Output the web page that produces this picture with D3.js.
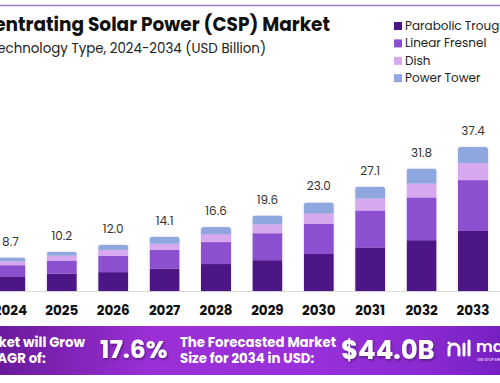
<!DOCTYPE html>
<html><head><meta charset="utf-8">
<script src="https://cdn.jsdelivr.net/npm/d3@7/dist/d3.min.js"></script>
<style>
html,body{margin:0;padding:0;background:#fff;overflow:hidden}
svg{display:block;font-family:"Poppins","Open Sans","Noto Sans",sans-serif}
</style></head>
<body>
<svg id="c" width="500" height="383"></svg>
<script>
const years = ["2024","2025","2026","2027","2028","2029","2030","2031","2032","2033","2034"];
const parabolicTrough = [3.8, 4.5, 4.9, 5.8, 7.0, 8.0, 9.6, 11.3, 13.2, 15.6, 18.3];
const linearFresnel   = [2.9, 3.4, 4.2, 4.9, 5.7, 7.0, 7.9, 9.6, 11.1, 13.2, 15.6];
const dish            = [1.0, 1.3, 1.6, 1.6, 2.1, 2.3, 2.6, 3.1, 3.6, 4.4, 5.1];
const powerTower      = [1.0, 1.0, 1.3, 1.8, 1.8, 2.3, 2.9, 3.1, 3.9, 4.2, 5.0];
const totals          = ["8.7","10.2","12.0","14.1","16.6","19.6","23.0","27.1","31.8","37.4","44.0"];
const seriesNames  = ["Parabolic Trough","Linear Fresnel","Dish","Power Tower"];
const seriesColors = ["#4d1587","#8c4fd0","#d6a9ef","#8ea7de"];
const titleText = "Concentrating Solar Power (CSP) Market";
const subtitleText = "By Technology Type, 2024-2034 (USD Billion)";
const cagrLines = ["The Market will Grow","At the CAGR of:"];
const cagrValue = "17.6%";
const forecastLines = ["The Forecasted Market","Size for 2034 in USD:"];
const forecastValue = "$44.0B";

const svg = d3.select("#c");
const defs = svg.append("defs");

// top rule
svg.append("line").attr("x1",0).attr("x2",500).attr("y1",5.5).attr("y2",5.5)
  .attr("stroke","#a57bbf").attr("stroke-width",1.5);

// title
svg.append("text").attr("x",330).attr("y",31).attr("text-anchor","end")
  .attr("font-size",18.5).attr("font-weight",700).attr("fill","#111").text(titleText);
svg.append("text").attr("x",266).attr("y",53).attr("text-anchor","end")
  .attr("font-size",13.4).attr("fill","#222").text(subtitleText);

// data
const data = years.map((y,i)=>({year:y, pt:parabolicTrough[i], lf:linearFresnel[i], d:dish[i], tw:powerTower[i], total:totals[i]}));
const keys = ["pt","lf","d","tw"];
const stack = d3.stack().keys(keys)(data);

const x = d3.scaleBand().domain(years).range([-15.3, 550.1]).paddingInner(0.416).paddingOuter(0.208);
const y = d3.scaleLinear().domain([0, 37.4]).range([291, 147]);

// baseline
svg.append("line").attr("x1",0).attr("x2",500).attr("y1",291.5).attr("y2",291.5)
  .attr("stroke","#dcdcdc").attr("stroke-width",1);

// shadow filter
const f = defs.append("filter").attr("id","sh").attr("x","-20%").attr("y","-20%").attr("width","140%").attr("height","140%");
f.append("feDropShadow").attr("dx",0).attr("dy",0).attr("stdDeviation",1.2).attr("flood-color","#7a4aa0").attr("flood-opacity",0.25);

// clip paths with rounded tops
data.forEach((d,i)=>{
  const top = y(stack[3][i][1]);
  defs.append("clipPath").attr("id","clip"+i).append("rect")
    .attr("x",x(d.year)).attr("y",top).attr("width",x.bandwidth()).attr("height",291-top+10).attr("rx",3);
});

const barsG = svg.append("g");
data.forEach((d,i)=>{
  const g = barsG.append("g").attr("filter","url(#sh)");
  const g2 = g.append("g").attr("clip-path","url(#clip"+i+")");
  stack.forEach((s,k)=>{
    g2.append("rect").attr("x",x(d.year)).attr("width",x.bandwidth())
      .attr("y",y(s[i][1])).attr("height",y(s[i][0])-y(s[i][1]))
      .attr("fill",seriesColors[k]);
  });
});

// value labels
svg.append("g").selectAll("text").data(data).join("text")
  .attr("x",d=>x(d.year)+x.bandwidth()/2)
  .attr("y",(d,i)=>y(stack[3][i][1])-12)
  .attr("text-anchor","middle").attr("font-size",12).attr("fill","#333")
  .text(d=>d.total);

// year axis labels
const xAxis = d3.axisBottom(x).tickSize(0).tickPadding(0);
const ax = svg.append("g").attr("transform","translate(0,304)").call(xAxis);
ax.select(".domain").remove();
ax.selectAll("text").attr("font-size",13.5).attr("font-weight",700).attr("fill","#111")
  .attr("font-family","'Poppins','Open Sans',sans-serif").attr("dy","0.78em");

// legend
const lg = svg.append("g");
seriesNames.forEach((n,k)=>{
  const yy = 26 + k*17.4;
  lg.append("rect").attr("x",394).attr("y",yy-4).attr("width",8).attr("height",8).attr("fill",seriesColors[k]);
  lg.append("text").attr("x",405).attr("y",yy+4).attr("font-size",12).attr("fill","#222").text(n);
});

// banner
const gr = defs.append("linearGradient").attr("id","bg").attr("x1","0").attr("x2","1").attr("y1","0").attr("y2","0");
[[0,"#6a1a9c"],[0.3,"#9a2fd5"],[0.6,"#9a31da"],[0.85,"#8a2ad0"],[1,"#7620c2"]].forEach(([o,c])=>
  gr.append("stop").attr("offset",o).attr("stop-color",c));
svg.append("rect").attr("x",0).attr("y",326).attr("width",500).attr("height",49).attr("fill","url(#bg)");

const tsh = defs.append("filter").attr("id","tsh").attr("x","-10%").attr("y","-30%").attr("width","120%").attr("height","160%");
tsh.append("feDropShadow").attr("dx",1).attr("dy",1.5).attr("stdDeviation",1).attr("flood-color","#2a0a45").attr("flood-opacity",0.6);

// CAGR text: line1 right edge at 85, both lines share same start
const c1 = svg.append("text").attr("y",347).attr("font-size",13.3).attr("font-weight",700).attr("fill","#fff").text(cagrLines[0]);
const w1 = c1.node().getComputedTextLength();
const sx = 85 - w1;
c1.attr("x",sx);
svg.append("text").attr("x",sx).attr("y",363).attr("font-size",13.3).attr("font-weight",700).attr("fill","#fff").text(cagrLines[1]);

svg.append("text").attr("x",100).attr("y",358).attr("font-size",25).attr("font-weight",700)
  .attr("fill","#fff").attr("filter","url(#tsh)").text(cagrValue);

svg.append("text").attr("x",180).attr("y",347).attr("font-size",13.3).attr("font-weight",700).attr("fill","#fff").text(forecastLines[0]);
svg.append("text").attr("x",180).attr("y",363).attr("font-size",13.3).attr("font-weight",700).attr("fill","#fff").text(forecastLines[1]);

svg.append("text").attr("x",341).attr("y",359).attr("font-size",26).attr("font-weight",700)
  .attr("fill","#fff").attr("filter","url(#tsh)").text(forecastValue);

// logo
const lgo = svg.append("g").attr("fill","none").attr("stroke","#fff").attr("stroke-width",3).attr("stroke-linecap","round");
lgo.append("path").attr("d","M449,355 L449,349 A5,5 0 0 1 459,349 L459,355");
lgo.append("line").attr("x1",464).attr("x2",464).attr("y1",344).attr("y2",355);
lgo.append("line").attr("x1",469).attr("x2",469).attr("y1",341).attr("y2",355);
svg.append("circle").attr("cx",449).attr("cy",343).attr("r",1.6).attr("fill","#fff");
svg.append("text").attr("x",476).attr("y",352).attr("font-size",16).attr("font-weight",600).attr("fill","#fff").text("market.us");
svg.append("text").attr("x",477).attr("y",361).attr("font-size",3.5).attr("fill","#fff").text("ONE STOP SHOP FOR THE REPORTS");
</script>
</body></html>
